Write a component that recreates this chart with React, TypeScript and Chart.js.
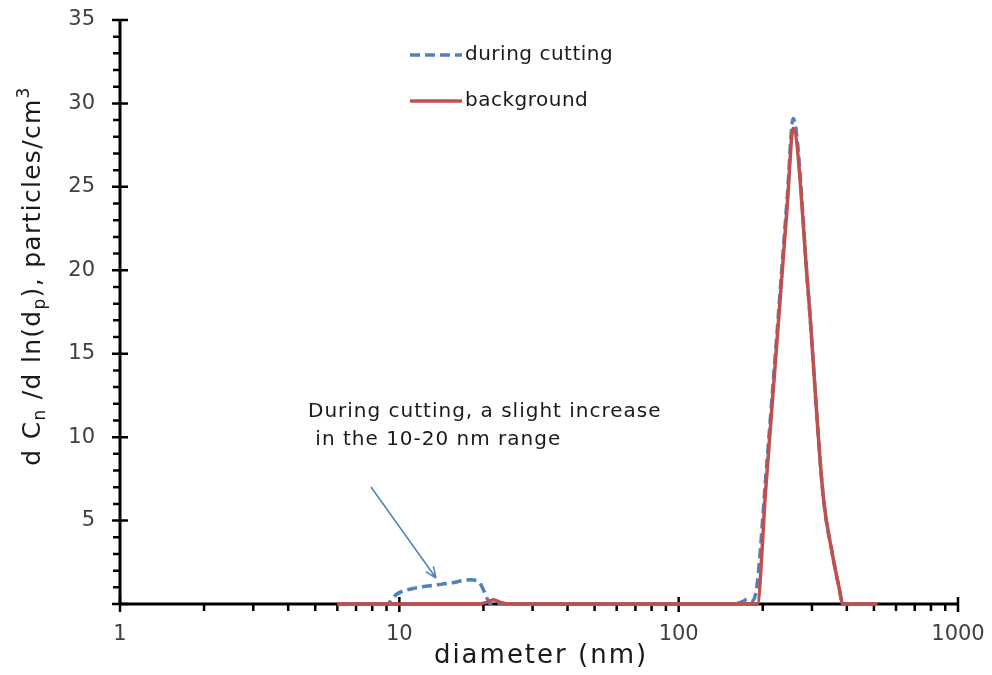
import React, { useEffect, useRef } from "react";
import { Chart, registerables } from "chart.js";

Chart.register(...registerables);

// ---- data ----
const xTickValues = [1, 10, 100, 1000];
const yTickStep = 5;
const yMax = 35;

const legendLabels = ["during cutting", "background"];
const annotationLines = ["During cutting, a slight increase", " in the 10-20 nm range"];
const xTitle = "diameter (nm)";

// background (red, solid)
const bgDiam = [6, 9, 15, 19, 20.5, 21.7, 23, 25, 50, 100, 150, 191, 205, 225, 245, 257, 290, 329, 355, 375, 387, 450, 515];
const bgVals = [0, 0, 0, 0, 0.1, 0.25, 0.1, 0, 0, 0, 0, 0, 6.9, 15.8, 24.0, 28.5, 19.0, 6.5, 3.0, 1.0, 0, 0, 0];

// during cutting (blue, dashed)
const cutDiam = [6, 9, 9.8, 11, 12.9, 15.2, 17.9, 19.2, 20.2, 21.2, 30, 100, 150, 170, 176, 184, 191, 205, 225, 245, 257, 290, 329, 355, 375, 387, 450, 515];
const cutVals = [0, 0, 0.6, 0.9, 1.1, 1.25, 1.45, 1.35, 0.7, 0, 0, 0, 0, 0.15, 0.3, 0.2, 1.2, 7.6, 16.3, 24.5, 29.1, 19.0, 6.5, 3.0, 1.0, 0, 0, 0];

const BLUE = "#4F81BD";
const RED = "#C0504D";
const FONT = "'DejaVu Sans', Verdana, sans-serif";

const zeroPad = (s: any) => {
  s.paddingTop = 0;
  s.paddingBottom = 0;
  s.paddingLeft = 0;
  s.paddingRight = 0;
};

const decorPlugin = {
  id: "decor",
  beforeDatasetsDraw(chart: any) {
    const ctx = chart.ctx;
    const xs = chart.scales.x;
    const ys = chart.scales.y;
    const { left, right, top, bottom } = chart.chartArea;
    ctx.save();
    ctx.strokeStyle = "#000";
    ctx.lineWidth = 3;
    ctx.beginPath();
    ctx.moveTo(left, top - 1);
    ctx.lineTo(left, bottom);
    ctx.moveTo(left, bottom);
    ctx.lineTo(right, bottom);
    ctx.stroke();
    ctx.lineWidth = 2.5;
    ctx.beginPath();
    for (let v = 0; v <= yMax; v += 1) {
      const py = ys.getPixelForValue(v);
      if (v % yTickStep === 0) {
        ctx.moveTo(left - 8, py);
        ctx.lineTo(left + 8, py);
      } else {
        ctx.moveTo(left - 7, py);
        ctx.lineTo(left, py);
      }
    }
    for (let i = 0; i < xTickValues.length; i++) {
      const d = xTickValues[i];
      const px = xs.getPixelForValue(d);
      ctx.moveTo(px, bottom - 7);
      ctx.lineTo(px, bottom + 8);
      if (i < xTickValues.length - 1) {
        for (let m = 2; m <= 9; m++) {
          const p2 = xs.getPixelForValue(d * m);
          ctx.moveTo(p2, bottom);
          ctx.lineTo(p2, bottom + 7);
        }
      }
    }
    ctx.stroke();
    ctx.restore();
  },
  afterDraw(chart: any) {
    const ctx = chart.ctx;
    ctx.save();
    // x title
    ctx.fillStyle = "#1a1a1a";
    ctx.font = `26px ${FONT}`;
    (ctx as any).letterSpacing = "2px";
    ctx.textAlign = "center";
    ctx.textBaseline = "middle";
    ctx.fillText(xTitle, 541, 656);

    // y title with sub/superscripts
    const parts: [string, number][] = [
      ["d C", 0],
      ["n", 1],
      [" /d ln(d", 0],
      ["p", 1],
      ["), particles/cm", 0],
      ["3", -1],
    ];
    const big = `25px ${FONT}`;
    const small = `17px ${FONT}`;
    (ctx as any).letterSpacing = "1.3px";
    let total = 0;
    for (const [t, k] of parts) {
      ctx.font = k === 0 ? big : small;
      total += ctx.measureText(t).width;
    }
    ctx.translate(40, 276);
    ctx.rotate(-Math.PI / 2);
    ctx.textAlign = "left";
    ctx.textBaseline = "alphabetic";
    let cx = -total / 2;
    for (const [t, k] of parts) {
      ctx.font = k === 0 ? big : small;
      const dy = k === 1 ? 5 : k === -1 ? -11 : 0;
      ctx.fillText(t, cx, dy);
      cx += ctx.measureText(t).width;
    }
    ctx.setTransform(1, 0, 0, 1, 0, 0);

    // legend
    (ctx as any).letterSpacing = "0.5px";
    ctx.font = `20px ${FONT}`;
    ctx.textAlign = "left";
    ctx.textBaseline = "middle";
    ctx.lineWidth = 3.5;
    ctx.strokeStyle = BLUE;
    ctx.setLineDash([10, 5]);
    ctx.beginPath();
    ctx.moveTo(410, 55);
    ctx.lineTo(462, 55);
    ctx.stroke();
    ctx.setLineDash([]);
    ctx.strokeStyle = RED;
    ctx.beginPath();
    ctx.moveTo(410, 101);
    ctx.lineTo(462, 101);
    ctx.stroke();
    ctx.fillStyle = "#1a1a1a";
    ctx.fillText(legendLabels[0], 465, 55);
    ctx.fillText(legendLabels[1], 465, 101);

    // annotation
    (ctx as any).letterSpacing = "1px";
    ctx.font = `20px ${FONT}`;
    ctx.fillText(annotationLines[0], 308, 412);
    ctx.fillText(annotationLines[1], 308, 440);

    // arrow
    const x0 = 371, y0 = 487, x1 = 436, y1 = 578;
    ctx.strokeStyle = BLUE;
    ctx.lineWidth = 1.5;
    ctx.beginPath();
    ctx.moveTo(x0, y0);
    ctx.lineTo(x1, y1);
    const ang = Math.atan2(y1 - y0, x1 - x0);
    const hl = 12;
    ctx.moveTo(x1, y1);
    ctx.lineTo(x1 - hl * Math.cos(ang - 0.4), y1 - hl * Math.sin(ang - 0.4));
    ctx.moveTo(x1, y1);
    ctx.lineTo(x1 - hl * Math.cos(ang + 0.4), y1 - hl * Math.sin(ang + 0.4));
    ctx.stroke();
    ctx.restore();
  },
};

export default function App() {
  const ref = useRef<HTMLCanvasElement | null>(null);
  useEffect(() => {
    if (!ref.current) return;
    const chart = new Chart(ref.current, {
      type: "line",
      data: {
        datasets: [
          {
            label: "background",
            data: bgDiam.map((d, i) => ({ x: d, y: bgVals[i] })),
            borderColor: RED,
            backgroundColor: RED,
            borderWidth: 3.5,
            pointRadius: 0,
            cubicInterpolationMode: "monotone",
            clip: false,
            order: 1,
          } as any,
          {
            label: "during cutting",
            data: cutDiam.map((d, i) => ({ x: d, y: cutVals[i] })),
            borderColor: BLUE,
            backgroundColor: BLUE,
            borderWidth: 3.5,
            borderDash: [10, 5],
            pointRadius: 0,
            cubicInterpolationMode: "monotone",
            clip: false,
            order: 2,
          } as any,
        ],
      },
      options: {
        animation: false,
        responsive: false,
        maintainAspectRatio: false,
        layout: { padding: { left: 0, right: 34, top: 20, bottom: 0 } },
        plugins: { legend: { display: false }, tooltip: { enabled: false } },
        scales: {
          x: {
            type: "logarithmic",
            min: 1,
            max: 1000,
            afterBuildTicks: (s: any) => {
              s.ticks = xTickValues.map((v) => ({ value: v }));
            },
            afterFit: (s: any) => {
              s.height = 71;
              zeroPad(s);
            },
            grid: { display: false, drawTicks: false },
            border: { display: false },
            ticks: {
              autoSkip: false,
              maxRotation: 0,
              padding: 18,
              color: "#404040",
              font: { family: FONT, size: 21 },
              callback: (v: any) => String(v),
            },
          },
          y: {
            min: 0,
            max: yMax,
            afterFit: (s: any) => {
              s.width = 120;
              zeroPad(s);
            },
            grid: { display: false, drawTicks: false },
            border: { display: false },
            ticks: {
              stepSize: yTickStep,
              padding: 25,
              color: "#404040",
              font: { family: FONT, size: 21 },
              callback: (v: any) => (v === 0 ? "" : String(v)),
            },
          },
        },
      } as any,
      plugins: [decorPlugin],
    });
    return () => chart.destroy();
  }, []);
  return (
    <div style={{ position: "absolute", left: 0, top: 0, width: 992, height: 675, background: "#fff" }}>
      <canvas ref={ref} width={992} height={675} style={{ width: 992, height: 675, display: "block" }} />
    </div>
  );
}
